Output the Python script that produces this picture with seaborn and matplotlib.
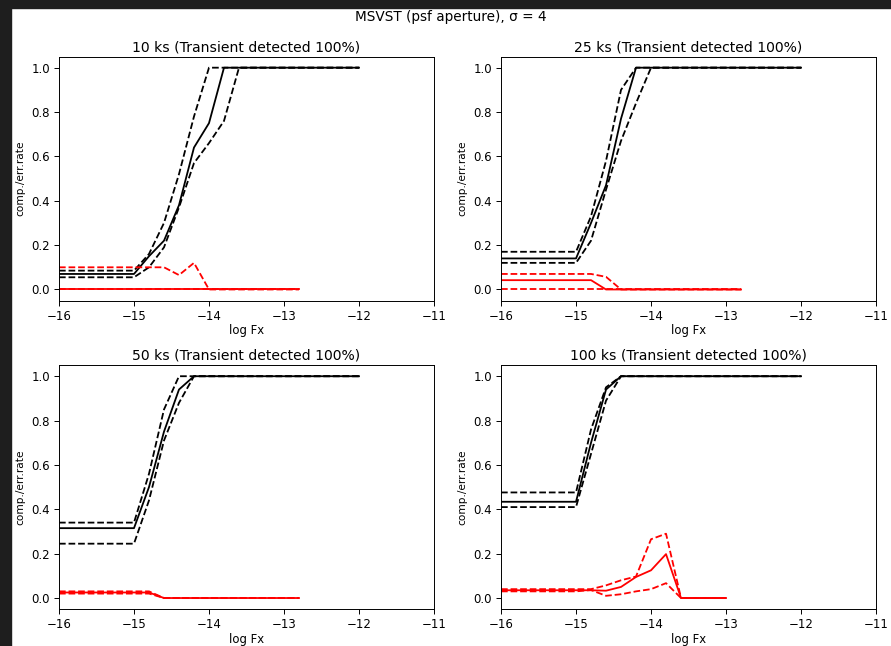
import numpy as np
import pandas as pd
import seaborn as sns
import matplotlib
matplotlib.use("Agg")
import matplotlib.pyplot as plt
from matplotlib.patches import Rectangle

# log Fx grid for completeness (black) and error rate (red) curves
x_comp = [-16.0, -15.0, -14.8, -14.6, -14.4, -14.2, -14.0, -13.8, -13.6,
          -13.4, -13.2, -13.0, -12.8, -12.6, -12.4, -12.2, -12.0]
x_err = [-16.0, -15.0, -14.8, -14.6, -14.4, -14.2, -14.0, -13.8, -13.6,
         -13.4, -13.2, -13.0, -12.8]
x_err_100 = [-16.0, -15.0, -14.8, -14.6, -14.4, -14.2, -14.0, -13.8, -13.6,
             -13.4, -13.2, -13.0]

titles = ["10 ks (Transient detected 100%)", "25 ks (Transient detected 100%)",
          "50 ks (Transient detected 100%)", "100 ks (Transient detected 100%)"]

# 10 ks
comp_10 = [0.07, 0.07, 0.15, 0.22, 0.38, 0.64, 0.75, 1.0, 1.0, 1.0, 1.0, 1.0, 1.0, 1.0, 1.0, 1.0, 1.0]
comp_hi_10 = [0.085, 0.085, 0.16, 0.30, 0.52, 0.78, 1.0, 1.0, 1.0, 1.0, 1.0, 1.0, 1.0, 1.0, 1.0, 1.0, 1.0]
comp_lo_10 = [0.055, 0.055, 0.10, 0.19, 0.37, 0.57, 0.66, 0.76, 1.0, 1.0, 1.0, 1.0, 1.0, 1.0, 1.0, 1.0, 1.0]
err_10 = [0.0, 0.0, 0.0, 0.0, 0.0, 0.0, 0.0, 0.0, 0.0, 0.0, 0.0, 0.0, 0.0]
err_hi_10 = [0.1, 0.1, 0.1, 0.1, 0.065, 0.12, 0.0, 0.0, 0.0, 0.0, 0.0, 0.0, 0.0]
err_lo_10 = [0.0, 0.0, 0.0, 0.0, 0.0, 0.0, 0.0, 0.0, 0.0, 0.0, 0.0, 0.0, 0.0]

# 25 ks
comp_25 = [0.14, 0.14, 0.30, 0.47, 0.77, 1.0, 1.0, 1.0, 1.0, 1.0, 1.0, 1.0, 1.0, 1.0, 1.0, 1.0, 1.0]
comp_hi_25 = [0.17, 0.17, 0.33, 0.58, 0.90, 1.0, 1.0, 1.0, 1.0, 1.0, 1.0, 1.0, 1.0, 1.0, 1.0, 1.0, 1.0]
comp_lo_25 = [0.12, 0.12, 0.22, 0.45, 0.67, 0.84, 1.0, 1.0, 1.0, 1.0, 1.0, 1.0, 1.0, 1.0, 1.0, 1.0, 1.0]
err_25 = [0.042, 0.042, 0.042, 0.0, 0.0, 0.0, 0.0, 0.0, 0.0, 0.0, 0.0, 0.0, 0.0]
err_hi_25 = [0.07, 0.07, 0.07, 0.057, 0.0, 0.0, 0.0, 0.0, 0.0, 0.0, 0.0, 0.0, 0.0]
err_lo_25 = [0.0, 0.0, 0.0, 0.0, 0.0, 0.0, 0.0, 0.0, 0.0, 0.0, 0.0, 0.0, 0.0]

# 50 ks
comp_50 = [0.315, 0.315, 0.50, 0.75, 0.94, 1.0, 1.0, 1.0, 1.0, 1.0, 1.0, 1.0, 1.0, 1.0, 1.0, 1.0, 1.0]
comp_hi_50 = [0.34, 0.34, 0.56, 0.85, 1.0, 1.0, 1.0, 1.0, 1.0, 1.0, 1.0, 1.0, 1.0, 1.0, 1.0, 1.0, 1.0]
comp_lo_50 = [0.245, 0.245, 0.44, 0.71, 0.88, 1.0, 1.0, 1.0, 1.0, 1.0, 1.0, 1.0, 1.0, 1.0, 1.0, 1.0, 1.0]
err_50 = [0.025, 0.025, 0.025, 0.0, 0.0, 0.0, 0.0, 0.0, 0.0, 0.0, 0.0, 0.0, 0.0]
err_hi_50 = [0.03, 0.03, 0.03, 0.0, 0.0, 0.0, 0.0, 0.0, 0.0, 0.0, 0.0, 0.0, 0.0]
err_lo_50 = [0.02, 0.02, 0.02, 0.0, 0.0, 0.0, 0.0, 0.0, 0.0, 0.0, 0.0, 0.0, 0.0]

# 100 ks
comp_100 = [0.434, 0.434, 0.70, 0.94, 1.0, 1.0, 1.0, 1.0, 1.0, 1.0, 1.0, 1.0, 1.0, 1.0, 1.0, 1.0, 1.0]
comp_hi_100 = [0.476, 0.476, 0.76, 0.95, 1.0, 1.0, 1.0, 1.0, 1.0, 1.0, 1.0, 1.0, 1.0, 1.0, 1.0, 1.0, 1.0]
comp_lo_100 = [0.41, 0.41, 0.65, 0.89, 1.0, 1.0, 1.0, 1.0, 1.0, 1.0, 1.0, 1.0, 1.0, 1.0, 1.0, 1.0, 1.0]
err_100 = [0.035, 0.035, 0.035, 0.033, 0.05, 0.095, 0.125, 0.198, 0.0, 0.0, 0.0, 0.0]
err_hi_100 = [0.04, 0.04, 0.04, 0.057, 0.08, 0.097, 0.265, 0.29, 0.0, 0.0, 0.0, 0.0]
err_lo_100 = [0.03, 0.03, 0.036, 0.01, 0.017, 0.03, 0.04, 0.067, 0.0, 0.0, 0.0, 0.0]

panels = [
    (x_err, comp_10, comp_hi_10, comp_lo_10, err_10, err_hi_10, err_lo_10),
    (x_err, comp_25, comp_hi_25, comp_lo_25, err_25, err_hi_25, err_lo_25),
    (x_err, comp_50, comp_hi_50, comp_lo_50, err_50, err_hi_50, err_lo_50),
    (x_err_100, comp_100, comp_hi_100, comp_lo_100, err_100, err_hi_100, err_lo_100),
]

plt.rcParams["font.family"] = ["DejaVu Sans"]
fig, axes = plt.subplots(2, 2, figsize=(8.91, 6.46), dpi=100)
fig.subplots_adjust(left=0.0662, right=0.9832, bottom=0.0571, top=0.9124,
                    wspace=0.1787, hspace=0.2646)

lw = 1.3
for ax, title, (xe, c, chi, clo, e, ehi, elo) in zip(axes.flat, titles, panels):
    # dashed bounds first so the solid curves sit on top
    sns.lineplot(x=x_comp, y=chi, color="black", lw=lw, linestyle="--", ax=ax)
    sns.lineplot(x=x_comp, y=clo, color="black", lw=lw, linestyle="--", ax=ax)
    sns.lineplot(x=x_comp, y=c, color="black", lw=lw, ax=ax)
    sns.lineplot(x=xe, y=ehi, color="red", lw=lw, linestyle="--", ax=ax)
    sns.lineplot(x=xe, y=elo, color="red", lw=lw, linestyle="--", ax=ax)
    sns.lineplot(x=xe, y=e, color="red", lw=lw, ax=ax)
    ax.set_xlim(-16, -11)
    ax.set_ylim(-0.05, 1.05)
    ax.set_xticks([-16, -15, -14, -13, -12, -11])
    ax.set_yticks([0.0, 0.2, 0.4, 0.6, 0.8, 1.0])
    ax.tick_params(labelsize=8.5, length=3.5, width=0.7, pad=3)
    for s in ax.spines.values():
        s.set_linewidth(0.7)
    ax.set_title(title, fontsize=10.1, pad=4)
    ax.set_xlabel("log Fx", fontsize=8.4, labelpad=1)
    ax.set_ylabel("comp./err.rate", fontsize=7.6, labelpad=4)

fig.suptitle("MSVST (psf aperture), σ = 4", fontsize=9.8, x=0.506, y=0.984)

# dark screenshot frame at the left and top edges
fig.patches.append(Rectangle((0, 0), 11 / 891, 1, transform=fig.transFigure,
                             color="#1e1e1e", zorder=10))
fig.patches.append(Rectangle((0, 1 - 8 / 646), 1, 8 / 646, transform=fig.transFigure,
                             color="#1e1e1e", zorder=10))

fig.savefig("out.png", dpi=100)
